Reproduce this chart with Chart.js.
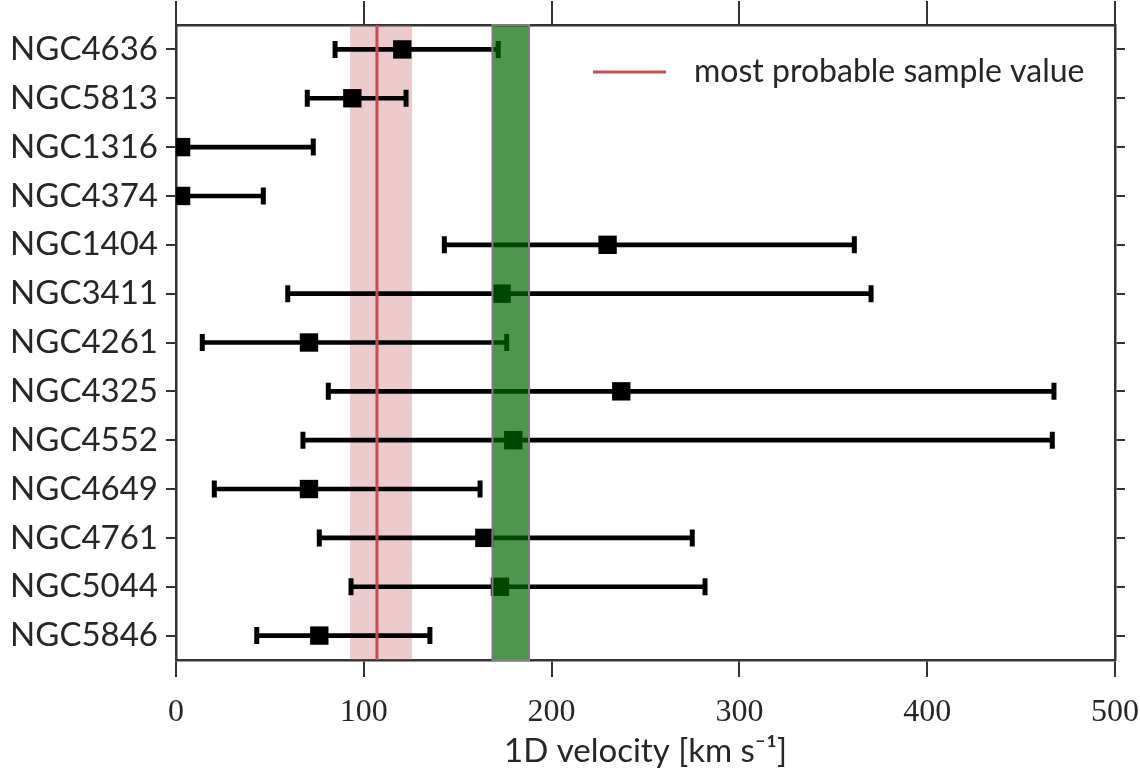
<!DOCTYPE html>
<html>
<head>
<meta charset="utf-8">
<script src="https://cdn.jsdelivr.net/npm/chart.js@4.4.1/dist/chart.umd.min.js"></script>
<style>
  html, body { margin: 0; padding: 0; background: #fff; }
  #wrap { width: 1140px; height: 775px; }
</style>
</head>
<body>
<div id="wrap"><canvas id="chart" width="1140" height="775"></canvas></div>
<script>
// ── Data ───────────────────────────────────────────────
const galaxies = ['NGC4636', 'NGC5813', 'NGC1316', 'NGC4374', 'NGC1404', 'NGC3411', 'NGC4261',
                  'NGC4325', 'NGC4552', 'NGC4649', 'NGC4761', 'NGC5044', 'NGC5846'];
const bestVel  = [120.5, 93.9, 2.7, 2.7, 229.8, 173.4, 70.8, 237.1, 179.6, 70.8, 164.2, 172.5, 76.3];
const lowVel   = [84.7, 69.9, 1, 1, 142.9, 59.5, 14.0, 81.1, 67.6, 20.4, 76.3, 93.2, 43.0];
const highVel  = [171.6, 122.5, 73.1, 46.5, 361.2, 370.1, 176.1, 467.5, 466.6, 161.9, 274.9, 281.7, 135.2];
const xTicks   = [0, 100, 200, 300, 400, 500];

const sampleValue = 107;           // most probable sample value
const sampleBand  = [92.7, 125.7];  // its uncertainty
const greenBand   = [168.5, 188];

const SANS = 'Lato, "DejaVu Sans", sans-serif';
const SERIF = '"Liberation Serif", "DejaVu Serif", serif';
const AXIS = '#333333';
const TEXT = '#262626';

// ── Bands, line and legend ─────────────────────────────
const bandsPlugin = {
  id: 'bands',
  beforeDatasetsDraw(chart) {
    const { ctx, chartArea: a, scales: { x } } = chart;
    ctx.save();
    ctx.fillStyle = 'rgba(196,78,82,0.3)';
    const l = x.getPixelForValue(sampleBand[0]);
    ctx.fillRect(l, a.top, x.getPixelForValue(sampleBand[1]) - l, a.bottom - a.top);
    ctx.restore();
  },
  afterDatasetsDraw(chart) {
    const { ctx, chartArea: a, scales: { x } } = chart;
    ctx.save();
    // red line
    const px = x.getPixelForValue(sampleValue);
    ctx.strokeStyle = 'rgb(196,78,82)';
    ctx.lineWidth = 3;
    ctx.beginPath();
    ctx.moveTo(px, a.top);
    ctx.lineTo(px, a.bottom);
    ctx.stroke();

    // green band on top
    const gl = x.getPixelForValue(greenBand[0]);
    const gw = x.getPixelForValue(greenBand[1]) - gl;
    ctx.fillStyle = 'rgba(0,100,0,0.69)';
    ctx.fillRect(gl, a.top, gw, a.bottom - a.top);
    ctx.strokeStyle = '#7f7f7f';
    ctx.lineWidth = 2;
    ctx.strokeRect(gl, a.top, gw, a.bottom - a.top);

    // legend
    const ly = a.top + 47;
    ctx.strokeStyle = 'rgb(196,78,82)';
    ctx.lineWidth = 3;
    ctx.beginPath();
    ctx.moveTo(a.right - 522, ly);
    ctx.lineTo(a.right - 449, ly);
    ctx.stroke();
    ctx.fillStyle = TEXT;
    ctx.font = '32px ' + SANS;
    ctx.textBaseline = 'middle';
    ctx.textAlign = 'left';
    ctx.fillText('most probable sample value', a.right - 421, ly);
    ctx.restore();
  }
};

// ── Chart ──────────────────────────────────────────────
const fixSize = (w, h) => (scale) => {
  if (w != null) scale.width = w;
  if (h != null) scale.height = h;
  scale.paddingLeft = scale.paddingRight = scale.paddingTop = scale.paddingBottom = 0;
};

new Chart(document.getElementById('chart'), {
  type: 'bar',
  data: {
    labels: galaxies,
    datasets: [
      {
        type: 'scatter',
        order: 1,
        data: galaxies.map((g, i) => ({ x: bestVel[i], y: g })),
        pointStyle: 'rect',
        pointRadius: 13,
        backgroundColor: '#000',
        borderColor: '#000',
        borderWidth: 0,
        xAxisID: 'x', yAxisID: 'y'
      },
      {
        type: 'scatter',
        order: 2,
        data: galaxies.flatMap((g, i) => [{ x: lowVel[i], y: g }, { x: highVel[i], y: g }]),
        pointStyle: 'line',
        rotation: 90,
        pointRadius: 8.5,
        borderColor: '#000',
        borderWidth: 5,
        xAxisID: 'x', yAxisID: 'y'
      },
      {
        type: 'bar',
        order: 3,
        indexAxis: 'y',
        data: galaxies.map((g, i) => [lowVel[i], highVel[i]]),
        backgroundColor: '#000',
        borderWidth: 0,
        barThickness: 4,
        borderSkipped: false,
        xAxisID: 'x', yAxisID: 'y'
      }
    ]
  },
  options: {
    responsive: false,
    animation: false,
    indexAxis: 'y',
    layout: { padding: 0 },
    plugins: { legend: { display: false }, tooltip: { enabled: false } },
    scales: {
      x: {
        type: 'linear', position: 'bottom', min: 0, max: 500,
        afterBuildTicks: (s) => { s.ticks = xTicks.map(v => ({ value: v })); },
        afterFit: fixSize(null, 115),
        border: { display: true, color: AXIS, width: 2.5 },
        grid: { drawOnChartArea: false, color: AXIS, lineWidth: 2, tickLength: 17 },
        ticks: { color: TEXT, font: { family: SERIF, size: 32 }, padding: 16, maxRotation: 0 },
        title: { display: true, text: '1D velocity [km s⁻¹]', color: TEXT,
                 font: { family: SANS, size: 33 }, padding: { top: 0, bottom: 4 } }
      },
      x2: {
        type: 'linear', position: 'top', min: 0, max: 500,
        afterBuildTicks: (s) => { s.ticks = xTicks.map(v => ({ value: v })); },
        afterFit: fixSize(null, 25),
        border: { display: true, color: AXIS, width: 2.5 },
        grid: { drawOnChartArea: false, color: AXIS, lineWidth: 2, tickLength: 24 },
        ticks: { display: false }
      },
      y: {
        type: 'category', position: 'left', offset: true,
        afterFit: fixSize(176, null),
        border: { display: true, color: AXIS, width: 2.5 },
        grid: { drawOnChartArea: false, offset: false, color: AXIS, lineWidth: 2, tickLength: 10 },
        ticks: { color: TEXT, font: { family: SANS, size: 33 }, padding: 8, autoSkip: false }
      },
      y2: {
        type: 'category', position: 'right', offset: true, labels: galaxies,
        afterFit: fixSize(25, null),
        border: { display: true, color: AXIS, width: 2.5 },
        grid: { drawOnChartArea: false, offset: false, color: AXIS, lineWidth: 2, tickLength: 10 },
        ticks: { display: false, autoSkip: false }
      }
    }
  },
  plugins: [bandsPlugin]
});
</script>
</body>
</html>
